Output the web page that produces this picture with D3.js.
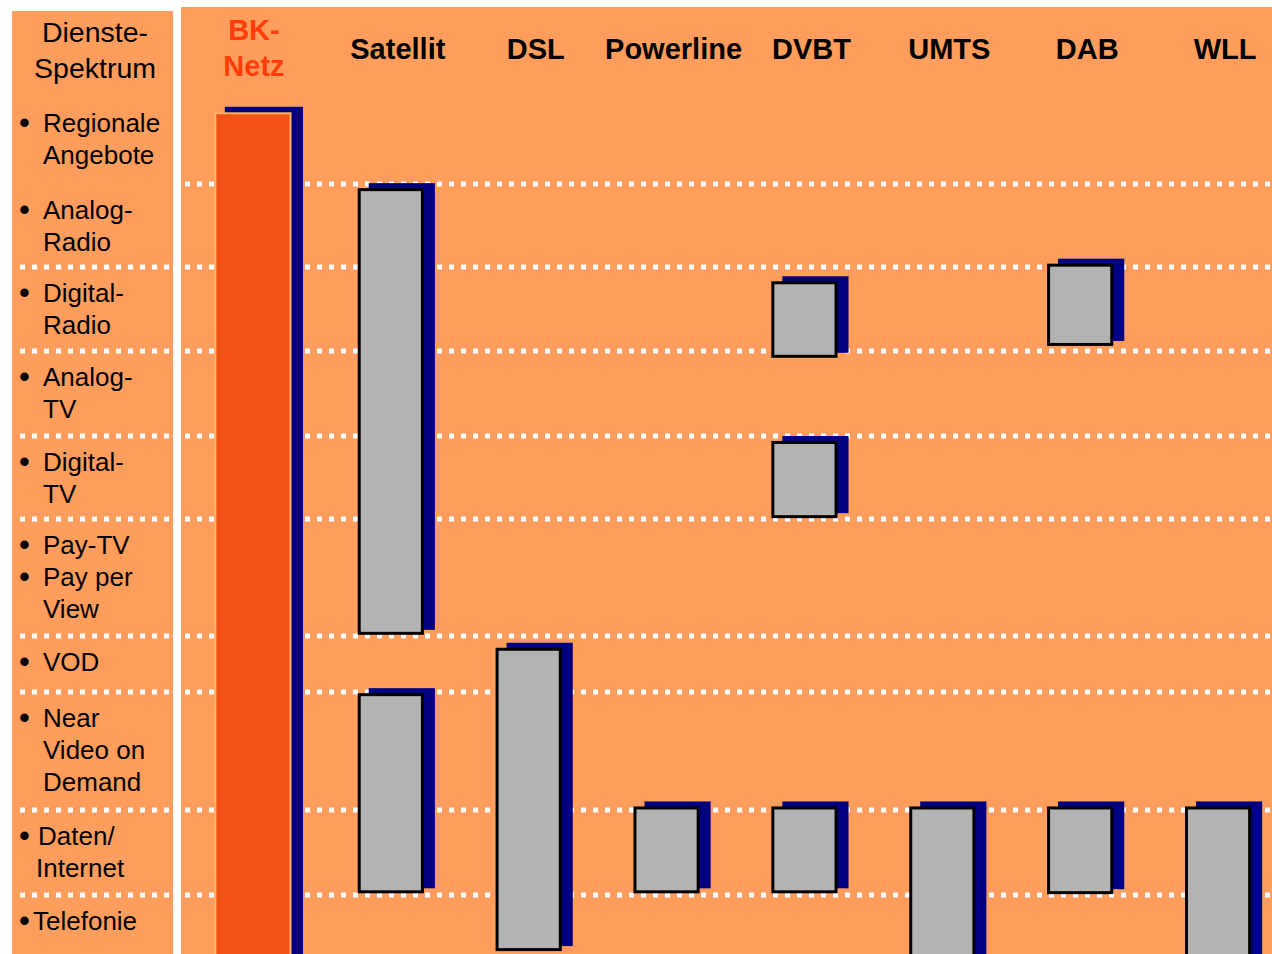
<!DOCTYPE html>
<html>
<head>
    <meta charset="utf-8">
    <title>Dienste-Spektrum</title>
    <script src="https://d3js.org/d3.v7.min.js"></script>
    <style>
        body { margin: 0; background: #fff; }
        svg { display: block; font-family: Arial, "Liberation Sans", sans-serif; }
    </style>
</head>
<body>
<div id="chart"></div>
<script>
    // columns: transmission paths
    let technologies = ["BK-Netz", "Satellit", "DSL", "Powerline", "DVBT", "UMTS", "DAB", "WLL"];
    let techLabels = [["BK-", "Netz"], ["Satellit"], ["DSL"], ["Powerline"], ["DVBT"], ["UMTS"], ["DAB"], ["WLL"]];

    // rows: services ("•" starts a bullet line)
    let services = ["Regionale Angebote", "Analog-Radio", "Digital-Radio", "Analog-TV", "Digital-TV",
        "Pay-TV / Pay per View", "VOD", "Near Video on Demand", "Daten/Internet", "Telefonie"];
    let serviceLines = [
        ["• Regionale", "Angebote"],
        ["• Analog-", "Radio"],
        ["• Digital-", "Radio"],
        ["• Analog-", "TV"],
        ["• Digital-", "TV"],
        ["• Pay-TV", "• Pay per", "View"],
        ["• VOD"],
        ["• Near", "Video on", "Demand"],
        ["• Daten/", "Internet"],
        ["•Telefonie"]
    ];

    // which services each path carries, in row units (row i spans i .. i+1)
    let coverage = [
        { tech: "BK-Netz", from: 0.17, to: 10 },
        { tech: "Satellit", from: 1.05, to: 5.99 },
        { tech: "Satellit", from: 7.01, to: 8.98 },
        { tech: "DSL", from: 6.21, to: 9.66 },
        { tech: "Powerline", from: 7.97, to: 8.98 },
        { tech: "DVBT", from: 2.17, to: 3.08 },
        { tech: "DVBT", from: 4.06, to: 4.99 },
        { tech: "DVBT", from: 7.97, to: 8.98 },
        { tech: "UMTS", from: 7.97, to: 10 },
        { tech: "DAB", from: 1.96, to: 2.94 },
        { tech: "DAB", from: 7.97, to: 8.99 },
        { tech: "WLL", from: 7.97, to: 10 }
    ];

    let width = 1272,
        height = 954;

    let orange = "#ff9d5c";

    let svg = d3.select("#chart")
        .append("svg")
        .attr("width", width)
        .attr("height", height);

    // panels
    svg.append("rect")
        .attr("x", 12).attr("y", 11)
        .attr("width", 161).attr("height", height - 11)
        .attr("fill", orange);
    svg.append("rect")
        .attr("x", 181).attr("y", 7)
        .attr("width", width - 181).attr("height", height - 7)
        .attr("fill", orange);

    // scales: rows are not equal in height, so piecewise linear
    let y = d3.scaleLinear()
        .domain(d3.range(11))
        .range([97, 184, 267, 351, 436, 519, 636, 692, 810, 895, 980]);

    let x = d3.scaleBand()
        .domain(technologies)
        .range([184, 1287])
        .paddingInner(0.52)
        .paddingOuter(0.26);

    // dotted separators
    let dots = svg.append("g")
        .attr("stroke", "#fff")
        .attr("stroke-width", 5)
        .attr("stroke-dasharray", "5 7");

    dots.selectAll(".sep-main")
        .data(d3.range(1, 10))
        .enter()
        .append("line")
        .attr("class", "sep-main")
        .attr("x1", 185).attr("x2", width)
        .attr("y1", d => y(d)).attr("y2", d => y(d));

    dots.selectAll(".sep-left")
        .data(d3.range(2, 10))
        .enter()
        .append("line")
        .attr("class", "sep-left")
        .attr("x1", 20).attr("x2", 172)
        .attr("y1", d => y(d)).attr("y2", d => y(d));

    // bars with navy drop shadow
    let bars = svg.append("g");
    let bw = x.bandwidth();

    function barW(d) {
        return d.tech === "BK-Netz" ? bw + 12 : bw;
    }
    function barX(d) {
        return x(d.tech) + bw / 2 - barW(d) / 2;
    }

    bars.selectAll(".shadow")
        .data(coverage)
        .enter()
        .append("rect")
        .attr("class", "shadow")
        .attr("x", d => barX(d) + 11)
        .attr("y", d => y(d.from) - 5)
        .attr("width", d => barW(d))
        .attr("height", d => y(d.to) - y(d.from))
        .attr("fill", "#000080");

    bars.selectAll(".bar")
        .data(coverage)
        .enter()
        .append("rect")
        .attr("class", "bar")
        .attr("x", d => barX(d) + 1.5)
        .attr("y", d => y(d.from) + 1.5)
        .attr("width", d => barW(d) - 3)
        .attr("height", d => y(d.to) - y(d.from) - 3)
        .attr("fill", d => d.tech === "BK-Netz" ? "#f25216" : "#b3b3b3")
        .attr("stroke", d => d.tech === "BK-Netz" ? "#ffb466" : "#000")
        .attr("stroke-width", d => d.tech === "BK-Netz" ? 2 : 3);

    // column headers
    let heads = svg.append("g")
        .attr("font-size", 29)
        .attr("font-weight", "bold")
        .attr("text-anchor", "middle");

    technologies.forEach(function(t, i) {
        let lines = techLabels[i];
        let top = lines.length > 1 ? 40 : 59;
        lines.forEach(function(line, j) {
            heads.append("text")
                .attr("x", x(t) + bw / 2 + (t === "BK-Netz" ? 1 : 7))
                .attr("y", top + j * 36)
                .attr("fill", t === "BK-Netz" ? "#ff3c0a" : "#000")
                .text(line);
        });
    });

    // left panel title
    let left = svg.append("g")
        .attr("font-size", 26)
        .attr("fill", "#000");

    ["Dienste-", "Spektrum"].forEach(function(line, j) {
        left.append("text")
            .attr("x", 95)
            .attr("y", 42 + j * 36)
            .attr("font-size", 28.5)
            .attr("text-anchor", "middle")
            .text(line);
    });

    // service labels
    let indent = { "Daten/Internet": 38, "Telefonie": 33 };

    services.forEach(function(s, i) {
        let tx = indent[s] || 43;
        serviceLines[i].forEach(function(line, j) {
            let ly = y(i) + 35 + j * 32;
            if (line[0] === "•") {
                left.append("text")
                    .attr("x", 19)
                    .attr("y", ly + 1)
                    .attr("font-size", 31)
                    .text("•");
                line = line.slice(1).trim();
            }
            left.append("text")
                .attr("x", s === "Daten/Internet" && j > 0 ? 36 : tx)
                .attr("y", ly)
                .text(line);
        });
    });
</script>
</body>
</html>
